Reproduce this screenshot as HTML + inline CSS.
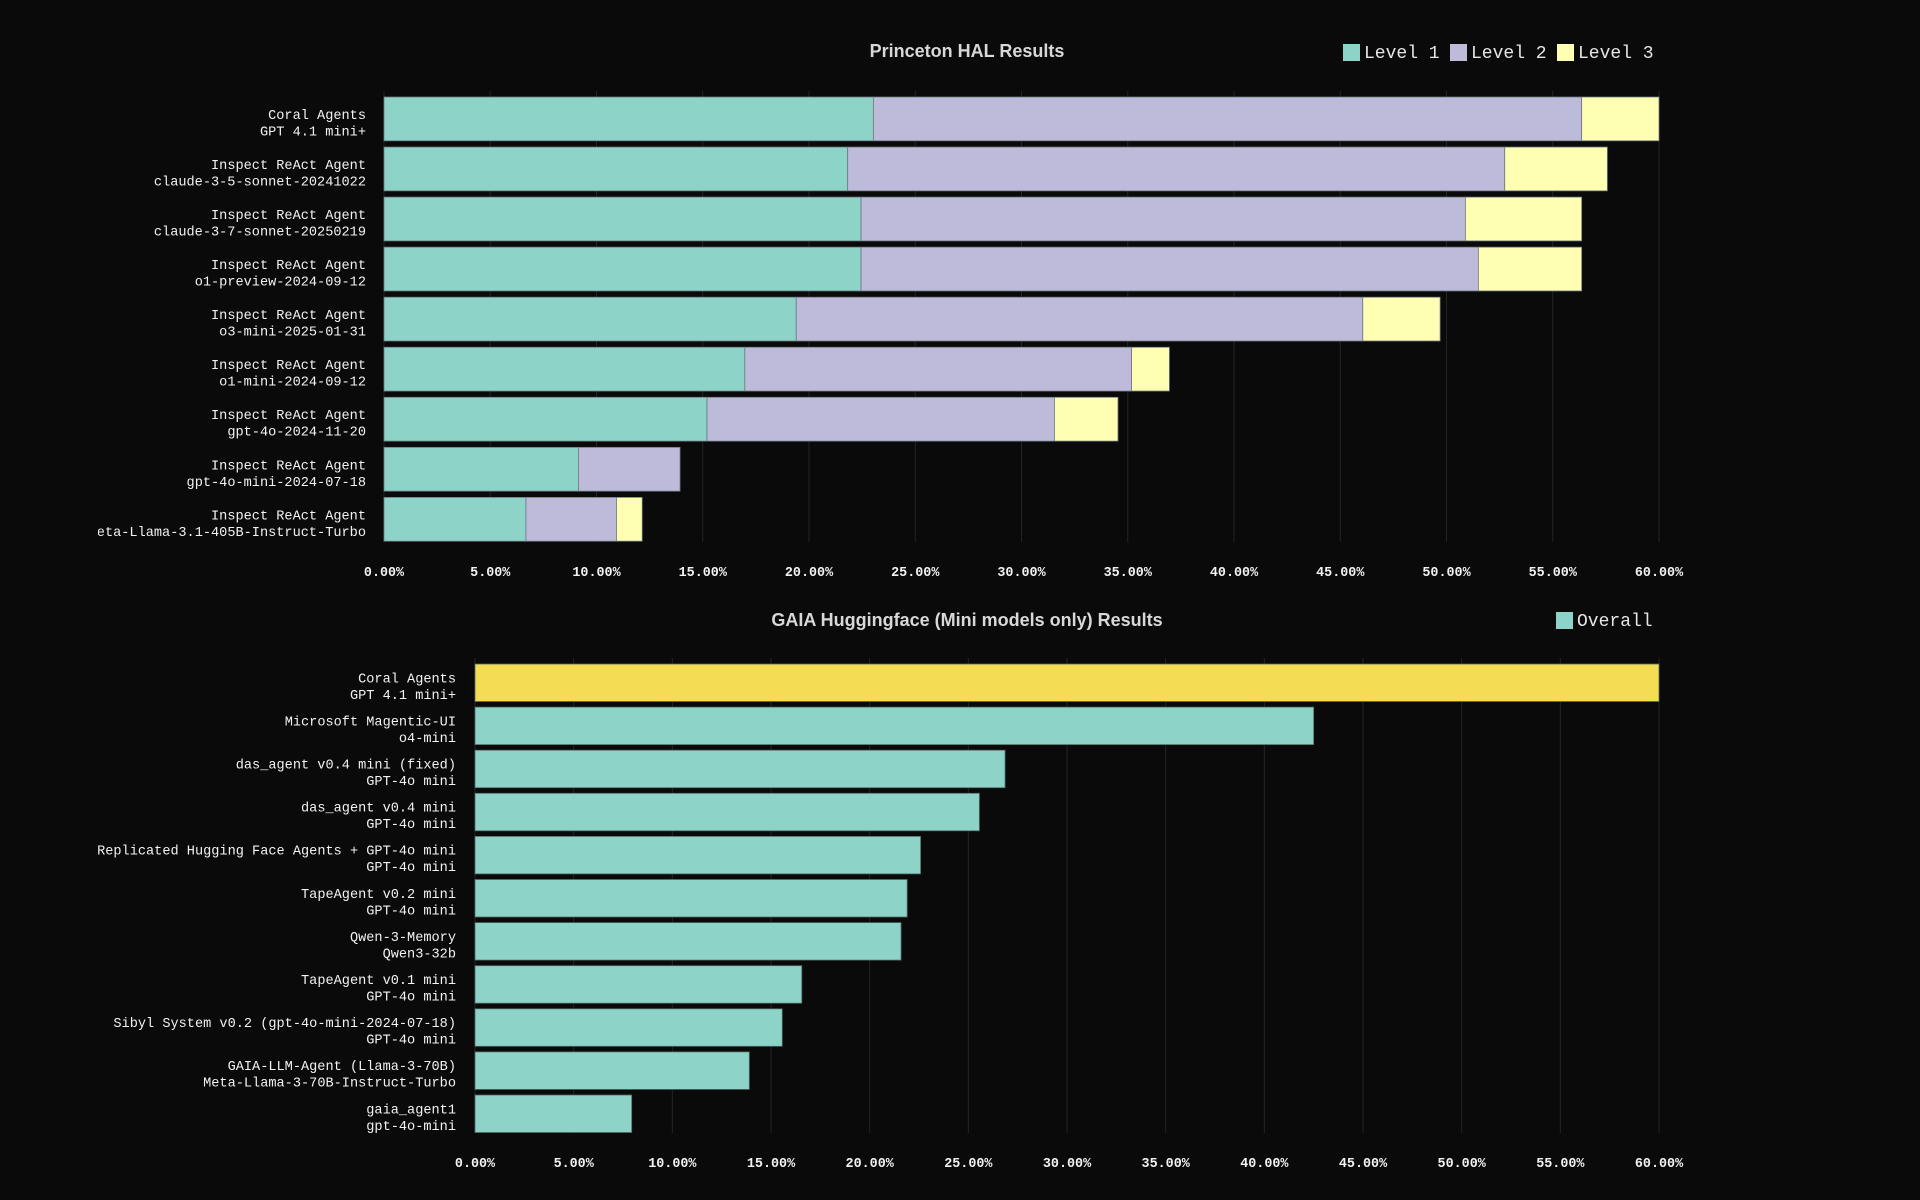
<!DOCTYPE html>
<html><head><meta charset="utf-8"><style>
html,body{margin:0;padding:0;background:#0a0a0a;}
svg{display:block;}
.lbl{font-family:"Liberation Mono",monospace;font-size:13.6px;fill:#f2f2f2;}
.tick{font-family:"Liberation Mono",monospace;font-size:13.4px;fill:#f2f2f2;font-weight:bold;}
.title{font-family:"Liberation Sans",sans-serif;font-size:18px;font-weight:bold;fill:#d8d8d8;}
.leg{font-family:"Liberation Mono",monospace;font-size:18px;fill:#e6e6e6;}
</style></head><body>
<svg id="chart" width="1920" height="1200" xmlns="http://www.w3.org/2000/svg">
<defs><clipPath id="clipL"><rect x="98" y="0" width="1822" height="1200"/></clipPath></defs>
<rect width="1920" height="1200" fill="#0a0a0a"/>
<g id="top" clip-path="url(#clipL)"></g>
<g id="bot" clip-path="url(#clipL)"></g>
</svg>
<script>
const halAgents=["Coral Agents","Inspect ReAct Agent","Inspect ReAct Agent","Inspect ReAct Agent","Inspect ReAct Agent","Inspect ReAct Agent","Inspect ReAct Agent","Inspect ReAct Agent","Inspect ReAct Agent"];
const halModels=["GPT 4.1 mini+","claude-3-5-sonnet-20241022","claude-3-7-sonnet-20250219","o1-preview-2024-09-12","o3-mini-2025-01-31","o1-mini-2024-09-12","gpt-4o-2024-11-20","gpt-4o-mini-2024-07-18","Meta-Llama-3.1-405B-Instruct-Turbo"];
const halLevel1=[23.03,21.82,22.45,22.45,19.4,16.98,15.2,9.15,6.68];
const halLevel2=[33.33,30.92,28.44,29.05,26.66,18.2,16.35,4.78,4.26];
const halLevel3=[3.64,4.83,5.47,4.86,3.64,1.78,2.99,0,1.21];
const halSeriesNames=["Level 1","Level 2","Level 3"];
const gaiaAgents=["Coral Agents","Microsoft Magentic-UI","das_agent v0.4 mini (fixed)","das_agent v0.4 mini","Replicated Hugging Face Agents + GPT-4o mini","TapeAgent v0.2 mini","Qwen-3-Memory","TapeAgent v0.1 mini","Sibyl System v0.2 (gpt-4o-mini-2024-07-18)","GAIA-LLM-Agent (Llama-3-70B)","gaia_agent1"];
const gaiaModels=["GPT 4.1 mini+","o4-mini","GPT-4o mini","GPT-4o mini","GPT-4o mini","GPT-4o mini","Qwen3-32b","GPT-4o mini","GPT-4o mini","Meta-Llama-3-70B-Instruct-Turbo","gpt-4o-mini"];
const gaiaOverall=[60,42.5,26.86,25.56,22.58,21.9,21.59,16.56,15.57,13.9,7.94];
const tickValues=[0,5,10,15,20,25,30,35,40,45,50,55,60];
const tickLabels=["0.00%","5.00%","10.00%","15.00%","20.00%","25.00%","30.00%","35.00%","40.00%","45.00%","50.00%","55.00%","60.00%"];

const NS="http://www.w3.org/2000/svg";
function mk(parent,tag,attrs,text){const e=document.createElementNS(NS,tag);for(const k in attrs)e.setAttribute(k,attrs[k]);if(text!==undefined)e.textContent=text;parent.appendChild(e);return e;}

function axis(g,x0,x1,gridTop,gridBot,tickY){
  const sx=v=>x0+(x1-x0)*v/60;
  tickValues.forEach((v,i)=>{
    const l=mk(g,'line',{x1:sx(v),x2:sx(v),y1:gridTop,y2:gridBot,stroke:'#22232f','stroke-width':1});
    
    
    const t=mk(g,'text',{x:sx(v),y:tickY,'text-anchor':'middle','class':'tick'},tickLabels[i]);
    
    
  });
  return sx;
}
function ylabel(g,x,cy,a,b){
  const t=mk(g,'text',{x:x,y:cy,'text-anchor':'end','class':'lbl'});
  
  
  mk(t,'tspan',{x:x},a);
  mk(t,'tspan',{x:x,dy:16.5},b);
}

// top chart
(function(){
  const g=document.getElementById('top');
  const t=mk(g,'text',{x:967,y:57,'text-anchor':'middle','class':'title'},'Princeton HAL Results');
  
  
  const cols=['#8dd3c7','#bebada','#ffffb3'];
  const lx=[1343,1450,1557];
  halSeriesNames.forEach((n,i)=>{
    const r=mk(g,'rect',{x:lx[i],y:44,width:17,height:17,fill:cols[i]});
    
    
    const tx=mk(g,'text',{x:lx[i]+21,y:58,'class':'leg'},n);
    
    
  });
  const sx=axis(g,384,1659,91,542,576);
  const y0=97,pitch=50.05,bh=43.8;
  halAgents.forEach((a,i)=>{
    const y=y0+i*pitch;
    let acc=0;
    [halLevel1,halLevel2,halLevel3].forEach((arr,s)=>{
      const v=arr[i];
      if(v>0){
        const r=mk(g,'rect',{x:sx(acc),y:y,width:sx(acc+v)-sx(acc),height:bh,fill:cols[s],stroke:'#6d7a80','stroke-width':0.8});
        
        
      }
      acc+=v;
    });
    ylabel(g,366,y+bh/2,a,halModels[i]);
  });
})();

// bottom chart
(function(){
  const g=document.getElementById('bot');
  const t=mk(g,'text',{x:967,y:626,'text-anchor':'middle','class':'title'},'GAIA Huggingface (Mini models only) Results');
  
  
  const r0=mk(g,'rect',{x:1556,y:612,width:17,height:17,fill:'#8dd3c7'});
  
  
  const lt=mk(g,'text',{x:1577,y:626,'class':'leg'},'Overall');
  
  
  const sx=axis(g,475,1659,658,1133,1167);
  const y0=664,pitch=43.1,bh=37.5;
  gaiaAgents.forEach((a,i)=>{
    const y=y0+i*pitch;
    const fill=i===0?'#f5dc55':'#8dd3c7';
    const r=mk(g,'rect',{x:sx(0),y:y,width:sx(gaiaOverall[i])-sx(0),height:bh,fill:fill,stroke:'#4f6b66','stroke-width':0.8});
    
    
    ylabel(g,456,y+bh/2-0.5,a,gaiaModels[i]);
  });
})();
</script>
</body></html>
